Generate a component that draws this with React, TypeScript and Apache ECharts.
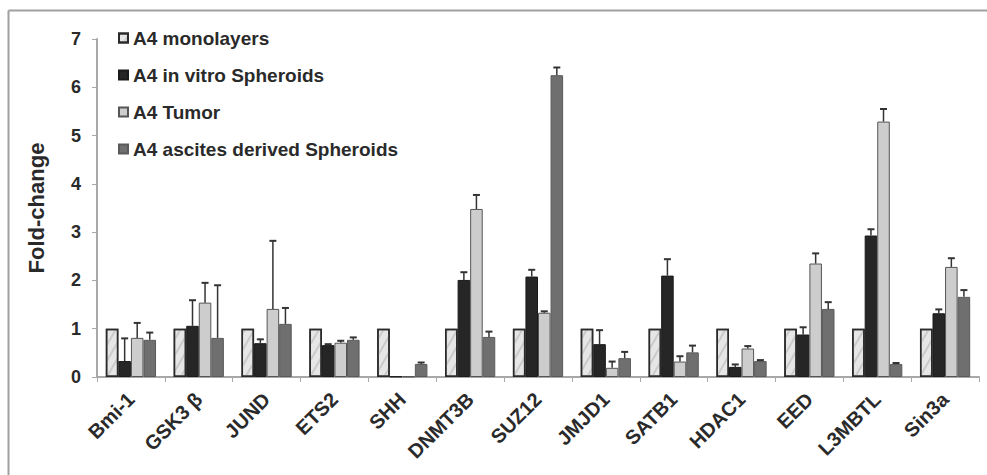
import React, { useEffect, useRef } from "react";
import * as echarts from "echarts";

const categories = ["Bmi-1", "GSK3 β", "JUND", "ETS2", "SHH", "DNMT3B", "SUZ12", "JMJD1", "SATB1", "HDAC1", "EED", "L3MBTL", "Sin3a"];
const seriesNames = ["A4 monolayers", "A4 in vitro Spheroids", "A4 Tumor", "A4 ascites derived Spheroids"];
const monolayers = [1, 1, 1, 1, 1, 1, 1, 1, 1, 1, 1, 1, 1];
const invitro = [0.33, 1.06, 0.7, 0.66, 0.01, 2.01, 2.08, 0.68, 2.1, 0.21, 0.88, 2.93, 1.32];
const tumor = [0.81, 1.54, 1.41, 0.71, 0.01, 3.48, 1.33, 0.19, 0.32, 0.59, 2.35, 5.29, 2.28];
const ascites = [0.77, 0.81, 1.1, 0.77, 0.27, 0.83, 6.25, 0.39, 0.51, 0.33, 1.41, 0.27, 1.66];
const monoErr = [0, 0, 0, 0, 0, 0, 0, 0, 0, 0, 0, 0, 0];
const invitroErr = [0.47, 0.53, 0.08, 0.02, 0, 0.16, 0.14, 0.29, 0.34, 0.05, 0.15, 0.13, 0.08];
const tumorErr = [0.31, 0.41, 1.41, 0.04, 0, 0.29, 0.03, 0.13, 0.11, 0.05, 0.21, 0.26, 0.18];
const ascitesErr = [0.15, 1.09, 0.33, 0.05, 0.03, 0.11, 0.16, 0.13, 0.14, 0.02, 0.14, 0.02, 0.14];
const yTicks = [0, 1, 2, 3, 4, 5, 6, 7];

const FONT = "Liberation Sans, Arial, sans-serif";
const CAT_GAP = 0.26;

export default function App() {
  const ref = useRef<HTMLDivElement>(null);
  useEffect(() => {
    if (!ref.current) return;
    const chart = echarts.init(ref.current, undefined, { renderer: "svg" });
    const values = [monolayers, invitro, tumor, ascites];
    const errs = [monoErr, invitroErr, tumorErr, ascitesErr];
    const errData: number[][] = [];
    values.forEach((arr, s) => {
      arr.forEach((v, i) => {
        if (errs[s][i] > 0) errData.push([i, v, v + errs[s][i], s]);
      });
    });
    const fills = ["#e6e6e6", "#262626", "#cdcdcd", "#6f6f6f"];
    const borders = ["#2a2a2a", "#1a1a1a", "#555555", "#5a5a5a"];
    const barSeries = values.map((arr, s) => ({
      name: seriesNames[s],
      type: "bar",
      data: arr,
      barGap: "0%",
      barCategoryGap: CAT_GAP * 100 + "%",
      itemStyle: {
        color: fills[s],
        borderColor: borders[s],
        borderWidth: s === 0 ? 1.5 : 1,
        decal:
          s === 0
            ? {
                symbol: "rect",
                color: "rgba(160,160,160,0.4)",
                dashArrayX: [1, 0],
                dashArrayY: [2, 6],
                rotation: -Math.PI / 3,
              }
            : undefined,
      },
    }));
    chart.setOption({
      animation: false,
      grid: { left: 97, right: 8, top: 39, bottom: 98, containLabel: false },
      legend: {
        orient: "vertical",
        left: 113,
        top: 23,
        itemWidth: 9,
        itemHeight: 9,
        itemGap: 17,
        icon: "rect",
        data: seriesNames,
        textStyle: { fontFamily: FONT, fontSize: 19, fontWeight: "bold", color: "#2a2a2a", lineHeight: 20 },
      },
      xAxis: {
        type: "category",
        data: categories,
        axisLine: { lineStyle: { color: "#a8a8a8", width: 2 } },
        axisTick: { show: true, length: 5, lineStyle: { color: "#a8a8a8" } },
        axisLabel: {
          rotate: 45,
          interval: 0,
          margin: 19,
          fontFamily: FONT,
          fontSize: 20,
          fontWeight: "bold",
          color: "#2a2a2a",
        },
      },
      yAxis: {
        type: "value",
        min: 0,
        max: 7,
        interval: 1,
        name: "Fold-change",
        nameLocation: "middle",
        nameGap: 50,
        nameTextStyle: { fontFamily: FONT, fontSize: 22, fontWeight: "bold", color: "#2a2a2a" },
        axisLine: { show: true, lineStyle: { color: "#a8a8a8", width: 2 } },
        axisTick: { show: true, length: 5, lineStyle: { color: "#a8a8a8" } },
        splitLine: { show: false },
        axisLabel: {
          margin: 16,
          fontFamily: FONT,
          fontSize: 18,
          fontWeight: "bold",
          color: "#2a2a2a",
          formatter: (v: number) => (yTicks.includes(v) ? String(v) : ""),
        },
      },
      graphic: [
        { type: "line", shape: { x1: 8.5, y1: 10.5, x2: 987, y2: 10.5 }, style: { stroke: "#a0a0a0", lineWidth: 2 } },
        { type: "line", shape: { x1: 8.5, y1: 10.5, x2: 8.5, y2: 475 }, style: { stroke: "#a0a0a0", lineWidth: 2 } },
      ],
      series: [
        ...barSeries,
        {
          type: "custom",
          name: "err",
          z: 3,
          data: errData,
          encode: { x: 0, y: [1, 2] },
          renderItem: (params: any, api: any) => {
            const i = api.value(0);
            const v = api.value(1);
            const top = api.value(2);
            const s = api.value(3);
            const catW = api.size([1, 0])[0];
            const bw = (catW * (1 - CAT_GAP)) / 4;
            const base = api.coord([i, v]);
            const tp = api.coord([i, top]);
            const x = base[0] + (s - 1.5) * bw;
            return {
              type: "group",
              children: [
                { type: "line", shape: { x1: x, y1: base[1], x2: x, y2: tp[1] }, style: { stroke: "#333", lineWidth: 1.5 } },
                { type: "line", shape: { x1: x - 3.5, y1: tp[1], x2: x + 3.5, y2: tp[1] }, style: { stroke: "#333", lineWidth: 2 } },
              ],
            };
          },
        },
      ],
    });
    return () => chart.dispose();
  }, []);
  return <div ref={ref} style={{ width: 987, height: 475, position: "absolute", left: 0, top: 0 }} />;
}
